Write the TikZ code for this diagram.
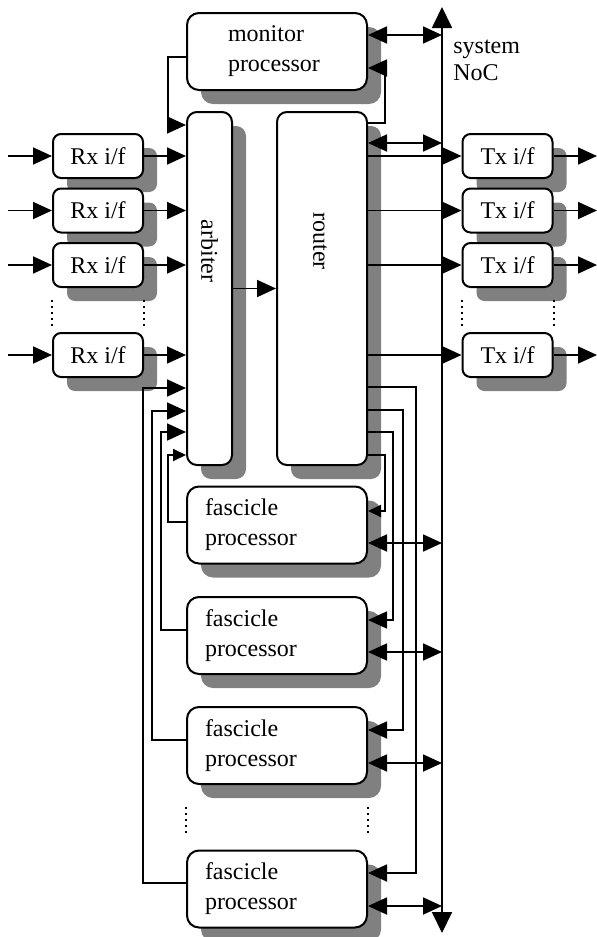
\documentclass[tikz,border=0pt]{standalone}
\usepackage{fontspec}
\setmainfont{Liberation Serif}
\usetikzlibrary{arrows.meta, shadows, positioning}
\tikzset{
  blk/.style={rectangle, draw, line width=1pt, fill=white, inner sep=0pt,
              drop shadow={shadow xshift=7pt, shadow yshift=-7pt, fill=black!50, opacity=1}},
  ifc/.style={blk, rounded corners=4pt, minimum width=45pt, minimum height=22pt,
              font=\fontsize{12}{15}\selectfont},
  proc/.style={blk, rounded corners=6pt, minimum height=38.5pt, align=left,
               font=\fontsize{12}{15}\selectfont},
  tallbox/.style={blk, rounded corners=5pt, minimum height=176.5pt},
  lbl/.style={font=\fontsize{12}{15}\selectfont, inner sep=0pt},
  wire/.style={line width=0.9pt},
  arr/.style={wire, -{Triangle[length=9.5pt,width=8.5pt]}},
  darr/.style={wire, {Triangle[length=9.5pt,width=8.5pt]}-{Triangle[length=9.5pt,width=8.5pt]}},
  sarr/.style={wire, -{Triangle[length=6.5pt,width=6pt]}},
  dotline/.style={line width=1pt, dash pattern=on 1pt off 2pt}
}
\begin{document}
\begin{tikzpicture}[x=0.5pt, y=-0.5pt]
  \useasboundingbox (0,0) rectangle (597,937);
  \node[proc, text width=49pt, inner xsep=20.5pt] (mon) at (277,51.5) {monitor\\processor};
  \node[tallbox, minimum width=22.5pt] (arb) at (209.5,288.5) {};
  \node[tallbox, minimum width=45pt] (rtr) at (322,288.5) {};
  \node[lbl, rotate=-90] (arbtxt) at (209.5,251) {arbiter};
  \node[lbl, rotate=-90] (rtrtxt) at (320,241) {router};
  \foreach \i/\y in {1/156,2/210.5,3/265,4/355} {
    \node[ifc] (rx\i) at (98,\y) {Rx i/f};
    \node[ifc] (tx\i) at (507.5,\y) {Tx i/f};
  }
  \foreach \i/\y in {1/525,2/635.5,3/745.5,4/889}
    \node[proc, text width=72pt, inner xsep=9pt] (fp\i) at (277,\y) {fascicle\\processor};
  \coordinate (busT) at (442,7);
  \coordinate (busB) at (442,933);
  \draw[wire, {Triangle[length=10.5pt,width=10pt]}-{Triangle[length=10.5pt,width=10pt]}] (busT) -- (busB);
  \node[lbl, anchor=north west, align=left, font=\fontsize{12}{13.5}\selectfont] (noc) at (453,40) {system\\NoC};
  \foreach \i in {1,...,4} {
    \coordinate (rin\i) at (rx\i.west -| 8,0);
    \coordinate (tout\i) at (tx\i.east -| 597,0);
    \draw[arr] (rin\i) -- (rx\i.west);
    \draw[arr] (rx\i.east) -- (rx\i.east -| arb.west);
    \draw[arr] (rtr.east |- tx\i.west) -- (tx\i.west);
    \draw[arr] (tx\i.east) -- (tout\i);
  }
  \draw[arr] (arb.east) -- (arb.east -| rtr.west);
  \draw[darr] (mon.east |- 0,35) -- (busT |- 0,35);
  \draw[arr] (rtr.east |- 0,123) -| (385,68) -- (mon.east |- 0,68);
  \draw[arr] (mon.west |- 0,57) -| (168,125) -- (arb.west |- 0,125);
  \draw[darr] (rtr.east |- 0,143) -- (busT |- 0,143);
  \draw[sarr] (rtr.east |- 0,455) -| (385,511) -- (fp1.east |- 0,511);
  \foreach \i/\ry/\vx/\fy in {2/432/393/620,3/410/403/730,4/387/416/873}
    \draw[arr] (rtr.east |- 0,\ry) -| (\vx,\fy) -- (fp\i.east |- 0,\fy);
  \draw[sarr] (fp1.west |- 0,522) -| (168,455) -- (arb.west |- 0,455);
  \foreach \i/\ly/\vx/\ay in {2/630/161/432,3/740/152/411,4/883/143/388}
    \draw[arr] (fp\i.west |- 0,\ly) -| (\vx,\ay) -- (arb.west |- 0,\ay);
  \foreach \i/\y in {1/543,2/652,3/763,4/906}
    \draw[darr] (fp\i.east |- 0,\y) -- (busT |- 0,\y);
  \foreach \n in {rx,tx} {
    \draw[dotline] (\n3.south west |- 0,300) -- (\n3.south west |- 0,330);
    \draw[dotline] (\n3.south east |- 0,300) -- (\n3.south east |- 0,330);
  }
  \draw[dotline] (fp3.south west |- 0,807) -- (fp3.south west |- 0,835);
  \draw[dotline] (fp3.south east |- 0,807) -- (fp3.south east |- 0,835);
\end{tikzpicture}
\end{document}
